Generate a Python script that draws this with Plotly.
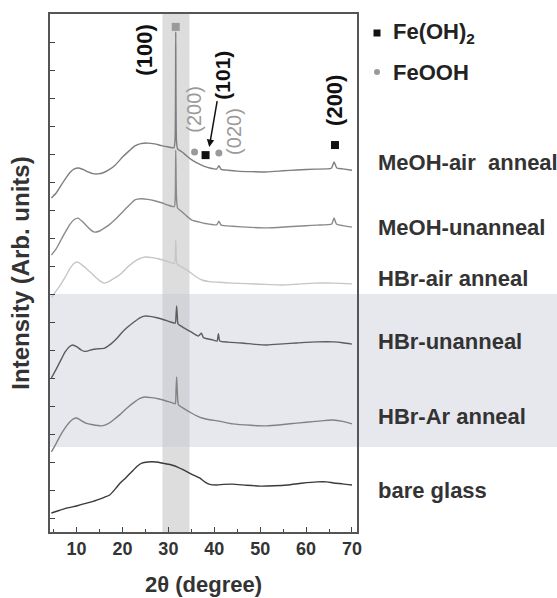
import plotly.graph_objects as go

# ---------------- data (stacked XRD patterns, arbitrary units) ----------------
tt_meoh_air = [4.5, 5.5, 6.5, 7.5, 8.5, 9.5, 10.5, 11.5, 12.5, 13.5, 14.6, 15.8, 17, 18.5, 20, 21.5, 22.7, 24, 25.5, 27, 28.5, 30, 31.2, 31.45, 31.6, 31.75, 32, 33, 34, 35.1, 36, 37, 38, 39, 40.5, 41, 41.5, 43, 45, 48, 51.5, 55, 58, 62, 65.5, 66.1, 66.7, 68, 70]
i_meoh_air = [11.43, 11.6, 11.85, 12.1, 12.33, 12.47, 12.5, 12.44, 12.36, 12.3, 12.29, 12.33, 12.43, 12.62, 12.89, 13.12, 13.29, 13.37, 13.39, 13.36, 13.3, 13.25, 13.22, 13.5, 17.36, 13.5, 13.18, 13.07, 12.93, 12.79, 12.7, 12.62, 12.55, 12.5, 12.46, 12.58, 12.45, 12.42, 12.39, 12.37, 12.36, 12.4, 12.43, 12.46, 12.49, 12.72, 12.5, 12.47, 12.42]

tt_meoh_un = [4.5, 5.5, 6.5, 7.5, 8.5, 9.5, 10.3, 11.2, 12.2, 13, 13.9, 15, 16, 17, 18.5, 20, 21.5, 22.7, 24, 25.5, 27, 28.5, 30, 31.3, 31.5, 31.6, 31.75, 32, 33, 34, 35.1, 36.5, 38, 40.5, 41, 41.5, 44, 48, 51.5, 56, 60, 62.4, 65.6, 66.1, 66.6, 68, 70]
i_meoh_un = [9.39, 9.6, 9.9, 10.2, 10.48, 10.66, 10.71, 10.6, 10.43, 10.3, 10.21, 10.25, 10.35, 10.46, 10.68, 10.93, 11.18, 11.36, 11.4, 11.38, 11.33, 11.26, 11.17, 11.12, 11.5, 13.14, 11.5, 11.07, 10.93, 10.78, 10.64, 10.58, 10.52, 10.47, 10.6, 10.46, 10.42, 10.38, 10.36, 10.4, 10.44, 10.46, 10.5, 10.72, 10.5, 10.44, 10.39]

tt_hbr_air = [4.6, 5.5, 6.5, 7.5, 8.5, 9.5, 10.2, 11, 12, 13.5, 15, 16.1, 17, 18, 19, 20, 21.1, 22.5, 24, 25, 26.5, 28, 29.5, 31.3, 31.6, 31.9, 33, 34, 35.5, 37.3, 39, 41, 44, 50, 54.9, 58, 62, 66, 70]
i_hbr_air = [7.89, 8.1, 8.33, 8.6, 8.9, 9.1, 9.14, 9.06, 8.93, 8.7, 8.48, 8.39, 8.44, 8.55, 8.64, 8.78, 8.96, 9.15, 9.28, 9.32, 9.3, 9.25, 9.18, 9.1, 9.93, 9.07, 8.96, 8.86, 8.68, 8.5, 8.44, 8.42, 8.39, 8.35, 8.32, 8.35, 8.39, 8.39, 8.36]

tt_hbr_un = [4.5, 5.5, 6.5, 7.5, 8.3, 9.1, 10, 11, 11.7, 12.5, 13.5, 14.5, 16.1, 17.5, 18.8, 19.8, 21, 22.5, 23.8, 24.8, 26, 27.5, 29, 30.5, 31.5, 31.65, 31.8, 31.95, 32.1, 33.5, 35, 36.5, 37.2, 37.6, 38.5, 39.7, 40.6, 40.9, 41.2, 43, 46, 49, 51.5, 55, 58, 62.4, 66, 68, 70]
i_hbr_un = [5.0, 5.3, 5.62, 5.93, 6.1, 6.18, 6.12, 6.0, 5.95, 5.97, 6.02, 6.04, 6.07, 6.22, 6.42, 6.61, 6.8, 7.0, 7.15, 7.21, 7.2, 7.15, 7.08, 7.0, 6.96, 7.2, 7.57, 7.2, 6.93, 6.78, 6.64, 6.5, 6.6, 6.45, 6.4, 6.36, 6.32, 6.58, 6.32, 6.28, 6.25, 6.2, 6.18, 6.22, 6.25, 6.29, 6.29, 6.26, 6.21]

tt_hbr_ar = [4.5, 5.5, 6.5, 7.5, 8.5, 9.3, 10, 11, 12, 13.5, 15.5, 17, 18, 19.5, 21, 22.5, 23.8, 24.8, 26.3, 28, 29.5, 30.9, 31.5, 31.65, 31.8, 31.95, 32.2, 33.5, 35, 36.3, 37.3, 39, 41, 44, 48, 51.5, 55, 58, 62, 65.9, 68, 70]
i_hbr_ar = [2.36, 2.65, 2.96, 3.22, 3.43, 3.54, 3.57, 3.48, 3.39, 3.33, 3.29, 3.38, 3.5, 3.7, 3.93, 4.13, 4.27, 4.32, 4.3, 4.25, 4.18, 4.11, 4.08, 4.5, 5.04, 4.5, 4.04, 3.9, 3.75, 3.64, 3.57, 3.51, 3.46, 3.36, 3.31, 3.29, 3.34, 3.39, 3.45, 3.5, 3.45, 3.36]

tt_glass = [4.5, 6, 8, 10, 12, 14.4, 16, 17.2, 18.5, 19.5, 20.7, 22, 23.2, 24.2, 25.5, 27.3, 29, 30.5, 32, 33.5, 35, 36.8, 38, 39, 40.5, 42, 44, 47, 50, 53, 56, 59, 62.4, 64.5, 66, 68, 70]
i_glass = [0.18, 0.26, 0.36, 0.43, 0.52, 0.64, 0.74, 0.82, 1.05, 1.25, 1.43, 1.65, 1.85, 1.96, 2.0, 2.0, 1.95, 1.9, 1.82, 1.7, 1.57, 1.43, 1.28, 1.2, 1.18, 1.2, 1.21, 1.17, 1.14, 1.15, 1.18, 1.24, 1.29, 1.29, 1.25, 1.22, 1.18]

series_names = ["MeOH-air  anneal", "MeOH-unanneal", "HBr-air anneal", "HBr-unanneal", "HBr-Ar anneal", "bare glass"]
series_x = [tt_meoh_air, tt_meoh_un, tt_hbr_air, tt_hbr_un, tt_hbr_ar, tt_glass]
series_y = [i_meoh_air, i_meoh_un, i_hbr_air, i_hbr_un, i_hbr_ar, i_glass]
series_colors = ["#7e7e7e", "#8a8a8a", "#c6c6c6", "#5c5c5c", "#828282", "#3a3a3a"]
label_y = [12.68, 10.39, 8.54, 6.29, 3.64, 1.0]

# phase markers
feoh2_x = [38.1, 66.3]
feoh2_y = [12.96, 13.32]
feooh_x = [35.7, 41.0]
feooh_y = [13.07, 13.04]
main_peak_x = [31.6]
main_peak_y = [17.54]

x_ticks = [10, 20, 30, 40, 50, 60, 70]
x_minor = [5, 15, 25, 35, 45, 55, 65]
y_ticks = list(range(0, 18))

FONT = "Liberation Sans, Arial, sans-serif"
TXT = "#333333"

fig = go.Figure()
for xs, ys, c in zip(series_x, series_y, series_colors):
    fig.add_trace(go.Scatter(x=xs, y=ys, mode="lines",
                             line=dict(color=c, width=1.4, shape="spline", smoothing=0.5),
                             hoverinfo="skip", showlegend=False))

fig.add_trace(go.Scatter(x=feoh2_x, y=feoh2_y, mode="markers",
                         marker=dict(symbol="square", size=8, color="#111111"), showlegend=False))
fig.add_trace(go.Scatter(x=feooh_x, y=feooh_y, mode="markers",
                         marker=dict(symbol="circle", size=7, color="#9a9a9a"), showlegend=False))
fig.add_trace(go.Scatter(x=main_peak_x, y=main_peak_y, mode="markers",
                         marker=dict(symbol="square", size=8, color="#9a9a9a"), showlegend=False))

# legend symbol positions (paper coords)
leg_x = (377 - 50) / 307
leg_y_sq = (532 - 33) / 518
leg_y_ci = (532 - 72) / 518

shapes = [
    dict(type="rect", xref="x", yref="paper", x0=28.7, x1=34.6, y0=0, y1=1,
         fillcolor="rgba(160,160,160,0.36)", line=dict(width=0), layer="below"),
    dict(type="rect", xref="paper", yref="paper", x0=0, x1=1.66, y0=0.164, y1=0.4595,
         fillcolor="rgba(195,200,212,0.42)", line=dict(width=0), layer="below"),
    dict(type="rect", xref="paper", yref="paper", xsizemode="pixel", ysizemode="pixel",
         xanchor=leg_x, yanchor=leg_y_sq, x0=-3.5, x1=3.5, y0=-3.5, y1=3.5,
         fillcolor="#111", line=dict(width=0)),
    dict(type="circle", xref="paper", yref="paper", xsizemode="pixel", ysizemode="pixel",
         xanchor=leg_x, yanchor=leg_y_ci, x0=-3, x1=3, y0=-3, y1=3,
         fillcolor="#9a9a9a", line=dict(width=0)),
]

ann = []
for name, yv in zip(series_names, label_y):
    ann.append(dict(x=1.062, xref="paper", y=yv, yref="y", text=name, showarrow=False,
                    xanchor="left", yanchor="middle",
                    font=dict(family=FONT, size=22, color=TXT, weight="bold")))
ann.append(dict(x=1.11, xref="paper", y=leg_y_sq, yref="paper", text="Fe(OH)<sub>2</sub>", showarrow=False,
                xanchor="left", yanchor="middle", font=dict(family=FONT, size=22, color="#222", weight="bold")))
ann.append(dict(x=1.11, xref="paper", y=leg_y_ci, yref="paper", text="FeOOH", showarrow=False,
                xanchor="left", yanchor="middle", font=dict(family=FONT, size=22, color="#222", weight="bold")))
ann.append(dict(x=24.8, y=16.71, text="(100)", textangle=-90, showarrow=False,
                font=dict(family=FONT, size=22, color="#111", weight="bold")))
ann.append(dict(x=35.7, y=14.6, text="(200)", textangle=-90, showarrow=False,
                font=dict(family=FONT, size=20, color="#9a9a9a")))
# (101) label with arrow pointing to the Fe(OH)2 marker
ann.append(dict(x=38.9, y=13.25, ax=41.6, ay=15.82, axref="x", ayref="y", text="(101)", textangle=-90,
                showarrow=True, arrowhead=2, arrowsize=1, arrowwidth=1.5, arrowcolor="#111",
                font=dict(family=FONT, size=21, color="#111", weight="bold")))
ann.append(dict(x=44.3, y=13.79, text="(020)", textangle=-90, showarrow=False,
                font=dict(family=FONT, size=20, color="#9a9a9a")))
ann.append(dict(x=66.3, y=14.93, text="(200)", textangle=-90, showarrow=False,
                font=dict(family=FONT, size=22, color="#111", weight="bold")))

fig.update_layout(
    width=557, height=598,
    margin=dict(l=50, r=200, t=14, b=66),
    paper_bgcolor="white", plot_bgcolor="rgba(0,0,0,0)",
    showlegend=False, shapes=shapes, annotations=ann,
    xaxis=dict(range=[4.2, 71.1], tickvals=x_ticks, ticks="inside", ticklen=5, tickwidth=1.2,
               tickcolor="#444", showline=True, linecolor="#555", linewidth=1.5, mirror=True,
               showgrid=False, zeroline=False, automargin=False,
               title=dict(text="2θ (degree)", standoff=18,
                          font=dict(family=FONT, size=22, color=TXT, weight="bold")),
               tickfont=dict(family=FONT, size=18, color=TXT, weight="bold"),
               minor=dict(tickvals=x_minor, ticks="inside", ticklen=3, tickcolor="#444", showgrid=False)),
    yaxis=dict(range=[-0.5, 18], tickvals=y_ticks, ticks="inside", ticklen=5, tickwidth=1.2,
               tickcolor="#444", showticklabels=False, showline=True, linecolor="#555", linewidth=1.5,
               mirror=True, showgrid=False, zeroline=False, automargin=False,
               title=dict(text="Intensity (Arb. units)", standoff=12,
                          font=dict(family=FONT, size=24, color=TXT, weight="bold"))),
)

fig.write_html("out.html")
